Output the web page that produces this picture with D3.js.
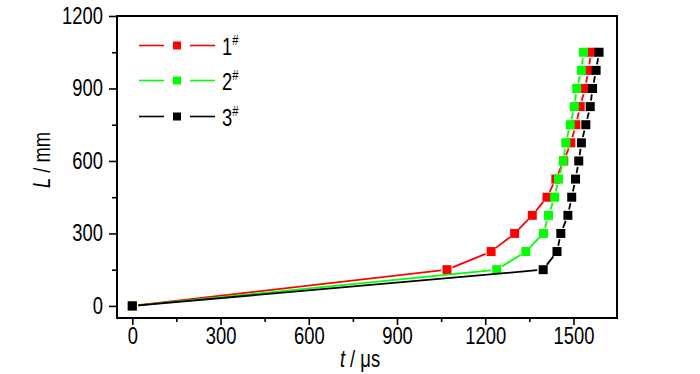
<!DOCTYPE html>
<html><head><meta charset="utf-8">
<script src="https://cdn.jsdelivr.net/npm/d3@7"></script>
<style>body{margin:0;background:#fff}svg{display:block}text{font-family:"Liberation Sans",Arial,sans-serif}</style>
</head><body><svg id="c" width="700" height="374"></svg>
<script>
const seriesNames = ["1", "2", "3"];
const seriesColors = ["#ff0000", "#00ff00", "#000000"];
const L_mm = [0,150,225,300,375,450,525,600,675,750,825,900,975,1050];
const t1 = [0,1070,1220,1300,1360,1410,1440,1467,1491,1508,1523,1539,1551,1560];
const t2 = [0,1239,1338,1398,1415,1436,1449,1465,1474,1489,1503,1511,1527,1534];
const t3 = [0,1397,1444,1457,1481,1494,1507,1518,1527,1542,1557,1565,1577,1587];
const xTicks = [0,300,600,900,1200,1500];
const xMinor = [150,450,750,1050,1350];
const yTicks = [0,300,600,900,1200];
const yMinor = [150,450,750,1050];

const svg = d3.select("#c");
const m = {l:117, r:83, t:16, b:56};
const W = 700, H = 374;
const x = d3.scaleLinear().domain([-52,1648]).range([m.l, W-m.r]);
const y = d3.scaleLinear().domain([-50,1200]).range([H-m.b, m.t]);
const FS = 23, SX = 0.8;

// axes
const gx = svg.append("g").attr("transform",`translate(0,${H-m.b})`)
  .call(d3.axisBottom(x).tickValues(xTicks).tickSize(7).tickPadding(3).tickFormat(d3.format("d")));
const gxm = svg.append("g").attr("transform",`translate(0,${H-m.b})`)
  .call(d3.axisBottom(x).tickValues(xMinor).tickSize(4).tickFormat(""));
const gy = svg.append("g").attr("transform",`translate(${m.l},0)`)
  .call(d3.axisLeft(y).tickValues(yTicks).tickSize(8).tickPadding(6).tickFormat(d3.format("d")));
const gym = svg.append("g").attr("transform",`translate(${m.l},0)`)
  .call(d3.axisLeft(y).tickValues(yMinor).tickSize(5).tickFormat(""));
[gx,gxm,gy,gym].forEach(g=>{
  g.select(".domain").remove();
  g.selectAll("line").attr("stroke","#000").attr("stroke-width",1.6);
  g.selectAll("text").attr("font-size",FS).attr("fill","#000");
});
gx.selectAll(".tick text").attr("transform",`scale(${SX},1)`);
gy.selectAll(".tick text").attr("x",-14/SX).attr("transform",`scale(${SX},1)`);

// frame
svg.append("rect").attr("x",m.l).attr("y",m.t).attr("width",W-m.l-m.r).attr("height",H-m.t-m.b)
  .attr("fill","none").attr("stroke","#000").attr("stroke-width",2);

// axis titles
const xt = svg.append("text").attr("transform",`translate(360,367) scale(${SX},1)`).attr("text-anchor","middle").attr("font-size",FS);
xt.append("tspan").attr("font-style","italic").text("t");
xt.append("tspan").text(" / μs");
const yt = svg.append("text").attr("transform",`translate(50,160) rotate(-90) scale(${SX},1)`).attr("text-anchor","middle").attr("font-size",FS);
yt.append("tspan").attr("font-style","italic").text("L");
yt.append("tspan").text(" / mm");

const series = [t1,t2,t3];
const gap = 6, ms = 9;
series.forEach((ts,i)=>{
  const pts = ts.map((t,j)=>[x(t), y(L_mm[j])]);
  const g = svg.append("g");
  for (let j=0;j<pts.length-1;j++){
    const [x1,y1]=pts[j],[x2,y2]=pts[j+1];
    const dx=x2-x1, dy=y2-y1, d=Math.hypot(dx,dy);
    if (d<=2*gap) continue;
    const ux=dx/d, uy=dy/d;
    g.append("line").attr("x1",x1+ux*gap).attr("y1",y1+uy*gap).attr("x2",x2-ux*gap).attr("y2",y2-uy*gap)
      .attr("stroke",seriesColors[i]).attr("stroke-width",1.8);
  }
  g.selectAll("rect").data(pts).join("rect")
    .attr("x",d=>d[0]-ms/2).attr("y",d=>d[1]-ms/2).attr("width",ms).attr("height",ms)
    .attr("fill",seriesColors[i]);
});

// legend
const legY = [45.5, 80.5, 116.5];
seriesNames.forEach((n,i)=>{
  const g = svg.append("g");
  g.append("line").attr("x1",139).attr("x2",164).attr("y1",legY[i]).attr("y2",legY[i]).attr("stroke",seriesColors[i]).attr("stroke-width",1.6);
  g.append("line").attr("x1",190).attr("x2",215).attr("y1",legY[i]).attr("y2",legY[i]).attr("stroke",seriesColors[i]).attr("stroke-width",1.6);
  g.append("rect").attr("x",173).attr("y",legY[i]-4).attr("width",8).attr("height",8).attr("fill",seriesColors[i]);
  const t = g.append("text").attr("transform",`translate(222,${legY[i]+9.5}) scale(${SX},1)`).attr("font-size",FS);
  t.append("tspan").text(n);
  t.append("tspan").attr("font-size",14).attr("dy",-10).text("#");
});
</script></body></html>
